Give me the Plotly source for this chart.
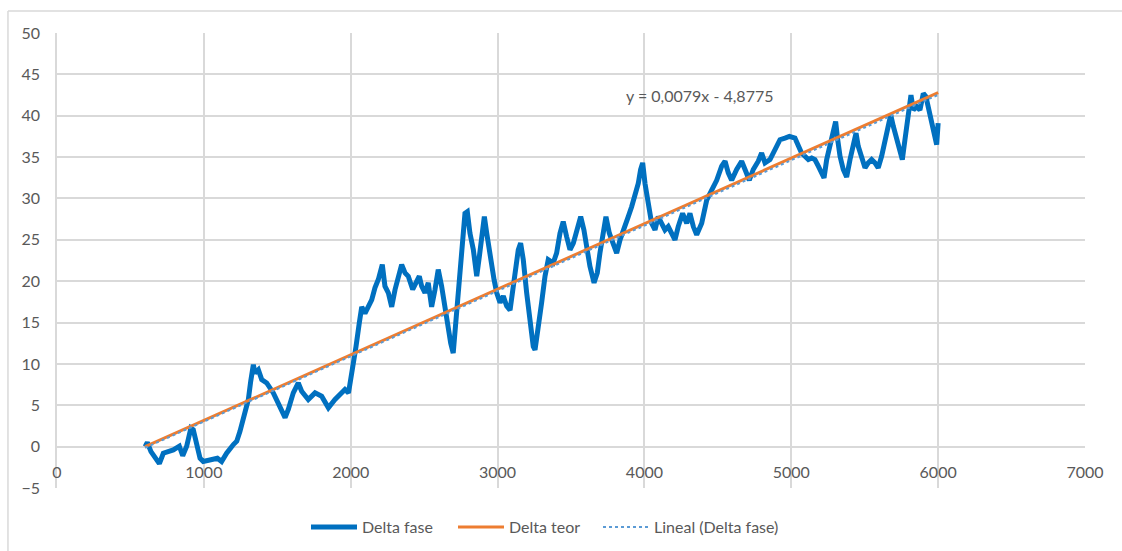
import plotly.graph_objects as go

# Measured phase difference along the sweep
fase_x = [600, 615, 640, 670, 697, 724, 760, 792, 833, 856, 883, 912, 928, 951, 974, 996,
          1042, 1092, 1121, 1155, 1201, 1224, 1246, 1280, 1303, 1319, 1337, 1348, 1371, 1394,
          1428, 1473, 1507, 1553, 1575, 1609, 1643, 1666, 1711, 1757, 1802, 1848, 1893, 1927,
          1961, 1985, 2000, 2018, 2036, 2058, 2075, 2097, 2120, 2143, 2165, 2188, 2215, 2233,
          2256, 2279, 2302, 2324, 2347, 2370, 2392, 2422, 2445, 2467, 2483, 2506, 2528, 2551,
          2574, 2596, 2619, 2642, 2665, 2681, 2698, 2710, 2733, 2749, 2763, 2778, 2794, 2812,
          2835, 2858, 2876, 2892, 2910, 2926, 2948, 2976, 2994, 3017, 3039, 3062, 3085, 3100,
          3119, 3141, 3157, 3175, 3198, 3221, 3243, 3255, 3277, 3300, 3323, 3345, 3379, 3402,
          3425, 3447, 3470, 3493, 3516, 3543, 3566, 3588, 3611, 3629, 3657, 3679, 3697, 3720,
          3738, 3761, 3788, 3811, 3834, 3861, 3890, 3913, 3936, 3958, 3974, 3988, 4004, 4026,
          4049, 4072, 4094, 4117, 4140, 4162, 4185, 4208, 4230, 4260, 4288, 4310, 4333, 4356,
          4390, 4424, 4458, 4492, 4526, 4549, 4571, 4594, 4628, 4662, 4685, 4714, 4741, 4775,
          4798, 4821, 4855, 4889, 4923, 4957, 4987, 5025, 5048, 5070, 5093, 5116, 5139, 5161,
          5184, 5207, 5223, 5241, 5264, 5286, 5302, 5316, 5332, 5354, 5377, 5400, 5422, 5441,
          5456, 5479, 5502, 5524, 5547, 5570, 5592, 5615, 5638, 5661, 5677, 5695, 5718, 5740,
          5756, 5774, 5797, 5815, 5831, 5854, 5876, 5899, 5917, 5933, 5956, 5979, 5990, 6000]
fase_y = [0.0, 0.5, -0.6, -1.5, -2.05, -0.8, -0.6, -0.4, 0.05, -1.1, 0.05, 2.25, 2.05, 0.6, -1.4, -1.8,
          -1.6, -1.4, -1.8, -0.8, 0.25, 0.65, 1.85, 4.3, 5.7, 7.9, 9.9, 8.9, 9.3, 8.1,
          7.7, 6.5, 5.3, 3.5, 4.5, 6.5, 7.7, 6.7, 5.7, 6.5, 6.1, 4.7, 5.7, 6.3,
          6.9, 6.5, 8.0, 10.5, 12.1, 14.9, 16.9, 16.1, 16.9, 17.75, 19.2, 20.2, 22.0, 19.4,
          18.6, 16.9, 19.0, 20.6, 22.0, 21.0, 20.6, 19.0, 19.8, 20.6, 19.4, 18.6, 19.8, 16.9,
          19.0, 21.4, 19.4, 16.5, 13.7, 12.5, 11.3, 13.7, 17.75, 21.8, 25.0, 28.2, 28.4, 25.8,
          23.8, 20.6, 23.0, 25.8, 27.8, 25.8, 23.0, 20.2, 18.6, 17.4, 18.2, 17.0, 16.5, 18.5,
          21.4, 23.8, 24.6, 22.6, 18.6, 14.9, 12.1, 11.7, 14.1, 17.4, 20.6, 22.6, 22.2, 23.4,
          25.8, 27.2, 25.4, 23.8, 24.6, 26.6, 27.8, 26.2, 23.8, 21.8, 19.8, 21.0, 23.4, 26.2,
          27.8, 25.8, 24.6, 23.4, 25.0, 26.6, 27.8, 29.0, 30.2, 31.8, 33.5, 34.3, 31.8, 29.8,
          27.0, 26.2, 27.8, 27.0, 26.2, 26.6, 25.8, 25.0, 26.6, 28.2, 27.0, 28.2, 26.6, 25.6,
          27.0, 29.8, 31.0, 32.2, 33.9, 34.5, 33.1, 32.2, 33.5, 34.5, 33.5, 32.2, 33.5, 34.5,
          35.5, 34.3, 34.7, 35.9, 37.1, 37.3, 37.5, 37.3, 36.3, 35.5, 35.1, 34.7, 34.9, 34.7,
          33.9, 33.1, 32.5, 34.7, 36.7, 37.9, 39.3, 37.1, 35.1, 33.5, 32.6, 34.7, 36.7, 37.9,
          36.3, 34.7, 33.7, 34.3, 34.7, 34.3, 33.7, 35.1, 37.1, 39.1, 40.1, 38.7, 37.1, 35.5,
          34.7, 37.1, 39.9, 42.5, 40.7, 41.1, 40.7, 42.7, 42.3, 40.9, 39.1, 37.1, 36.5, 39.1]

# Theoretical phase difference
teor_x = [600, 6000]
teor_y = [0.0, 42.8]

# Linear trend of the measured series
trend_slope = 0.0079
trend_intercept = -4.8775
trend_x = [600, 6000]
trend_y = [trend_slope * v + trend_intercept for v in trend_x]
trend_label = "y = 0,0079x - 4,8775"

FONT = "Lato, 'Open Sans', sans-serif"
TXT = "#595959"
GRID = "#d9d9d9"

fig = go.Figure()
fig.add_trace(go.Scatter(x=fase_x, y=fase_y, mode="lines", name="Delta fase",
                         line=dict(color="#0070C0", width=5), legend="legend"))
fig.add_trace(go.Scatter(x=teor_x, y=teor_y, mode="lines", name="Delta teor",
                         line=dict(color="#ED7D31", width=3), legend="legend2"))
fig.add_trace(go.Scatter(x=trend_x, y=trend_y, mode="lines", name="Lineal (Delta fase)",
                         line=dict(color="#5B9BD5", width=2, dash="dot"), legend="legend3"))

fig.add_annotation(x=4378, y=42.5, text=trend_label, showarrow=False,
                   font=dict(family=FONT, size=16, color=TXT))

# Outer chart-area border (top and left edges)
fig.add_shape(type="line", xref="paper", yref="paper",
              x0=-0.0477, x1=1.1, y0=1.0484, y1=1.0484, line=dict(color=GRID, width=1.5))
fig.add_shape(type="line", xref="paper", yref="paper",
              x0=-0.0477, x1=-0.0477, y0=1.0484, y1=-0.3, line=dict(color=GRID, width=1.5))


def legend_at(px):
    return dict(orientation="h", x=(px - 57) / 1028, xanchor="left", y=-0.086,
                yanchor="middle", itemwidth=46,
                font=dict(family=FONT, size=16, color=TXT), bgcolor="rgba(0,0,0,0)")


fig.update_layout(
    width=1122, height=551,
    margin=dict(l=57, r=37, t=33, b=63, autoexpand=False),
    plot_bgcolor="white", paper_bgcolor="white",
    font=dict(family=FONT, size=16, color=TXT),
    showlegend=True,
    legend=legend_at(306),
    legend2=legend_at(453),
    legend3=legend_at(598),
    xaxis=dict(range=[0, 7000], dtick=1000, showgrid=True, gridcolor=GRID, gridwidth=1.5,
               zeroline=False, showline=False, ticks="", anchor="free",
               position=5 / 55, ticklabelstandoff=14,
               tickfont=dict(family=FONT, size=16, color=TXT)),
    yaxis=dict(range=[-5, 50], dtick=5, showgrid=True, gridcolor=GRID, gridwidth=1.5,
               zeroline=False, showline=True, linecolor=GRID, linewidth=1.5, ticks="",
               ticklabelstandoff=12,
               tickfont=dict(family=FONT, size=16, color=TXT)),
)

fig.write_html("out.html")
